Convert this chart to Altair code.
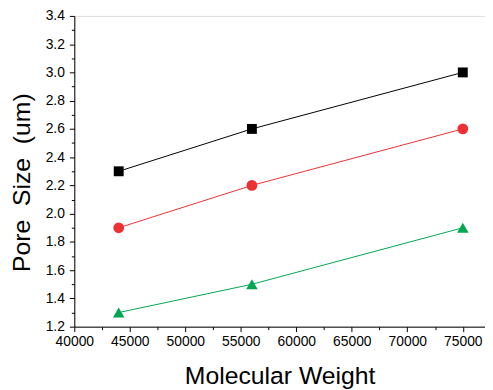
import altair as alt
import pandas as pd

mw = [44000, 56000, 75000]
s_black = [2.3, 2.6, 3.0]
s_red = [1.9, 2.2, 2.6]
s_green = [1.3, 1.5, 1.9]

series = ["A", "B", "C"]
colors = ["#000000", "#ee3034", "#00a651"]
shapes = ["square", "circle", "triangle-up"]
sizes = [100, 135, 150]

rows = []
for name, vals in zip(series, [s_black, s_red, s_green]):
    for x, y in zip(mw, vals):
        rows.append({"mw": x, "size": y, "series": name})
df = pd.DataFrame(rows)

x_ticks = [40000 + 2500 * i for i in range(15)]
y_ticks = [round(1.2 + 0.1 * i, 1) for i in range(23)]

FONT = "Liberation Sans"

x_enc = alt.X(
    "mw:Q",
    scale=alt.Scale(domain=[40000, 77000], nice=False, zero=False),
    axis=alt.Axis(
        title="Molecular Weight",
        values=x_ticks,
        labelExpr="datum.value % 5000 === 0 ? datum.value : ''",
        format="d",
        grid=False,
        domainColor="black",
        tickColor="black",
        tickSize={"condition": {"test": "datum.value % 5000 === 0", "value": 5}, "value": 3},
        labelColor="black",
        labelFont=FONT,
        labelFontSize=14,
        labelPadding=3,
        titleFont=FONT,
        titleFontSize=25,
        titleFontWeight="normal",
        titleColor="black",
        titlePadding=15,
        labelFlush=False,
    ),
)
y_enc = alt.Y(
    "size:Q",
    scale=alt.Scale(domain=[1.2, 3.4], nice=False, zero=False),
    axis=alt.Axis(
        title="Pore \u00a0Size \u00a0(um)",
        values=y_ticks,
        labelExpr="round(datum.value * 10) % 2 === 0 ? format(datum.value, '.1f') : ''",
        grid=False,
        domainColor="black",
        tickColor="black",
        tickSize={"condition": {"test": "round(datum.value * 10) % 2 === 0", "value": 5}, "value": 3},
        labelColor="black",
        labelFont=FONT,
        labelFontSize=14,
        labelPadding=5,
        titleFont=FONT,
        titleFontSize=25,
        titleFontWeight="normal",
        titleColor="black",
        titlePadding=11,
        titleY=168,
        labelFlush=False,
    ),
)

color = alt.Color("series:N", scale=alt.Scale(domain=series, range=colors), legend=None)
shape = alt.Shape("series:N", scale=alt.Scale(domain=series, range=shapes), legend=None)
size = alt.Size("series:N", scale=alt.Scale(domain=series, range=sizes), legend=None)

lines = alt.Chart(df).mark_line(strokeWidth=1).encode(x=x_enc, y=y_enc, color=color, detail="series:N")
points = alt.Chart(df).mark_point(filled=True, opacity=1).encode(
    x=x_enc, y=y_enc, color=color, shape=shape, size=size
)

chart = (
    alt.layer(lines, points)
    .properties(
        width=415,
        height=314,
        autosize=alt.AutoSizeParams(type="none"),
        padding={"left": 67, "top": 6, "right": 0, "bottom": 62},
    )
    .configure_view(stroke=None)
    .configure(background="white")
)

chart.save("out.html", embed_options={"renderer": "svg", "actions": False})
